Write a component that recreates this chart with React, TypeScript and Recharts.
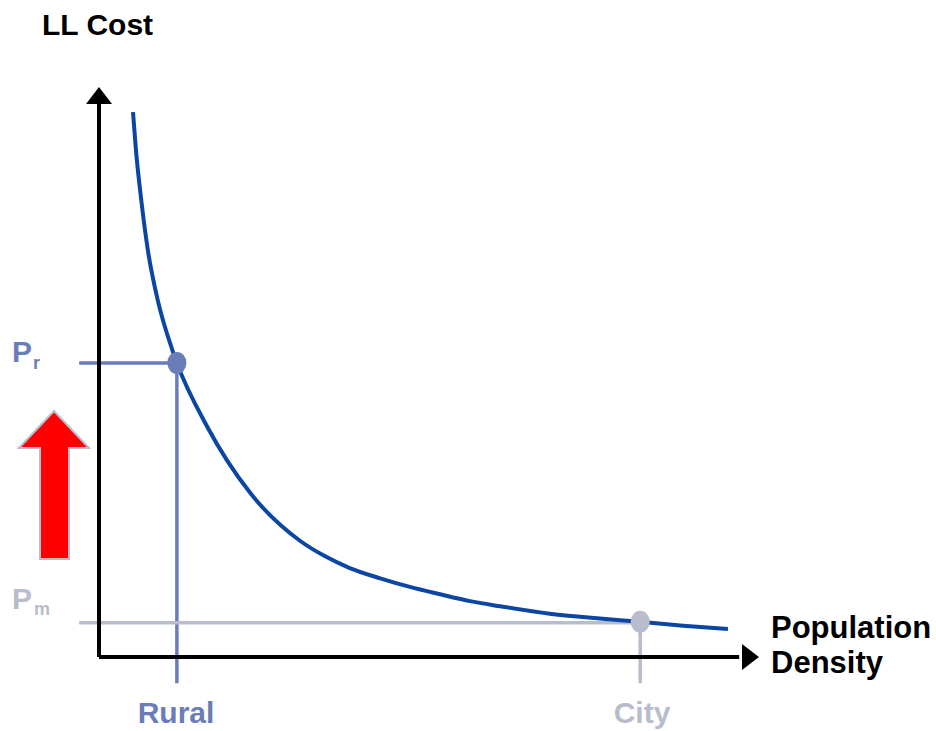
import React from 'react';
import {
  Customized,
  Line,
  LineChart,
  ReferenceDot,
  ReferenceLine,
  XAxis,
  YAxis
} from 'recharts';

// curve (x: population density, y: LL cost, both 0..100)
const densityX = [5.15, 5.6, 6.4, 7.4, 8.9, 11.1, 11.8, 16.4, 22.9, 30.5, 34.2, 38.0, 42.6, 47.1, 51.7, 56.2, 60.8, 68.3, 75.9, 82.0, 88.5, 95.3];
const costY = [95.6, 88.9, 80.2, 71.4, 62.6, 53.9, 51.6, 40.4, 28.8, 20.35, 17.7, 15.6, 13.8, 12.3, 11.0, 9.8, 8.9, 7.6, 6.75, 6.2, 5.5, 4.9];

const rural = { x: 11.8, y: 51.6 };
const city = { x: 82.0, y: 6.2 };
const pmLevel = 6.0;
const guideLeft = -3.0;
const guideBottom = -4.6;

const data = densityX.map((x, i) => ({ x, cost: costY[i] }));

const BLUE = '#0c46a3';
const RURAL = '#6b7db8';
const CITY = '#b8bccd';
const FONT = '"Liberation Sans", Arial, sans-serif';

const ArrowUp = (props: any) => {
  const { cx, cy } = props;
  return <polygon points={`${cx},${cy} ${cx - 13},${cy + 17} ${cx + 13},${cy + 17}`} fill="#000" />;
};

const ArrowRight = (props: any) => {
  const { cx, cy } = props;
  return <polygon points={`${cx},${cy} ${cx - 17},${cy - 13} ${cx - 17},${cy + 13}`} fill="#000" />;
};

const dot = (color: string) => (props: any) => (
  <ellipse cx={props.cx} cy={props.cy} rx={9.5} ry={11} fill={color} />
);

const Labels = () => (
  <g fontFamily={FONT} fontWeight="bold">
    <text x={42} y={35} fontSize={30} fill="#000">LL Cost</text>
    <text x={771} y={638} fontSize={31} fill="#000">Population</text>
    <text x={771} y={673} fontSize={31} fill="#000">Density</text>
    <text x={176} y={723} fontSize={30} fill={RURAL} textAnchor="middle">Rural</text>
    <text x={642} y={723} fontSize={30} fill={CITY} textAnchor="middle">City</text>
    <text x={12} y={362} fontSize={30} fill={RURAL}>P</text>
    <text x={33} y={369} fontSize={18} fill={RURAL}>r</text>
    <text x={12} y={609} fontSize={30} fill={CITY}>P</text>
    <text x={34} y={615} fontSize={18} fill={CITY}>m</text>
    <polygon
      points="54,411 89,448 69,448 69,559 40,559 40,448 19,448"
      fill="#ff0000"
      stroke={CITY}
      strokeWidth={2}
      strokeLinejoin="miter"
    />
  </g>
);

export default function App() {
  return (
    <div style={{ position: 'absolute', left: 0, top: 0 }}>
      <LineChart
        width={936}
        height={731}
        data={data}
        margin={{ top: 87, right: 177, bottom: 74, left: 99 }}
      >
        <XAxis dataKey="x" type="number" domain={[0, 100]} hide />
        <YAxis type="number" domain={[0, 100]} hide />
        <ReferenceLine
          segment={[{ x: guideLeft, y: rural.y }, { x: rural.x, y: rural.y }]}
          stroke={RURAL}
          strokeWidth={3.5}
          ifOverflow="visible"
        />
        <ReferenceLine
          segment={[{ x: rural.x, y: rural.y }, { x: rural.x, y: guideBottom }]}
          stroke={RURAL}
          strokeWidth={3.5}
          ifOverflow="visible"
        />
        <ReferenceLine
          segment={[{ x: guideLeft, y: pmLevel }, { x: city.x, y: pmLevel }]}
          stroke={CITY}
          strokeWidth={3.5}
          ifOverflow="visible"
        />
        <ReferenceLine
          segment={[{ x: city.x, y: city.y }, { x: city.x, y: guideBottom }]}
          stroke={CITY}
          strokeWidth={3.5}
          ifOverflow="visible"
        />
        <ReferenceLine
          segment={[{ x: 0, y: 0 }, { x: 0, y: 97 }]}
          stroke="#000"
          strokeWidth={4}
          ifOverflow="visible"
        />
        <ReferenceLine
          segment={[{ x: 0, y: 0 }, { x: 97, y: 0 }]}
          stroke="#000"
          strokeWidth={4}
          ifOverflow="visible"
        />
        <ReferenceDot x={0} y={100} ifOverflow="visible" shape={ArrowUp} />
        <ReferenceDot x={100} y={0} ifOverflow="visible" shape={ArrowRight} />
        <Line
          dataKey="cost"
          type="monotone"
          stroke={BLUE}
          strokeWidth={4}
          dot={false}
          activeDot={false}
          isAnimationActive={false}
        />
        <ReferenceDot x={rural.x} y={rural.y} ifOverflow="visible" shape={dot(RURAL)} />
        <ReferenceDot x={city.x} y={city.y} ifOverflow="visible" shape={dot(CITY)} />
        <Customized component={Labels} />
      </LineChart>
    </div>
  );
}
